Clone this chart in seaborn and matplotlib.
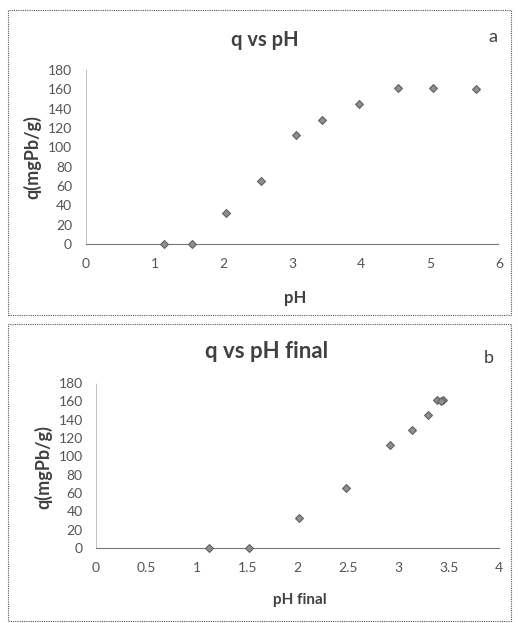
import numpy as np
import pandas as pd
import matplotlib
matplotlib.use("Agg")
import matplotlib.pyplot as plt
import seaborn as sns
from matplotlib.patches import Rectangle

# values
ph = [1.13, 1.54, 2.04, 2.54, 3.05, 3.43, 3.97, 4.53, 5.04, 5.67]
ph_final = [1.12, 1.52, 2.01, 2.48, 2.92, 3.14, 3.30, 3.38, 3.44, 3.42]
q = [0, 0.5, 32.5, 65, 112.5, 128.5, 145, 161, 161, 160.5]

xticks_a = [0, 1, 2, 3, 4, 5, 6]
xticks_b = [0, 0.5, 1, 1.5, 2, 2.5, 3, 3.5, 4]
yticks = [0, 20, 40, 60, 80, 100, 120, 140, 160, 180]

sns.set_style("white")
plt.rcParams['font.family'] = ['Lato', 'DejaVu Sans']

W, H = 518, 623
fig = plt.figure(figsize=(W / 100, H / 100), dpi=100)
fig.patch.set_facecolor('white')

def px(x, y):
    return x / W, 1 - y / H

def box(x0, y0, x1, y1):
    r = Rectangle(px(x0, y1), (x1 - x0) / W, (y1 - y0) / H,
                  transform=fig.transFigure, fill=False,
                  edgecolor='#555555', linestyle=(0, (1, 1)), linewidth=0.8)
    fig.patches.append(r)

def panel(left, right, top, bottom, xdata, xticks, xlim, title, tag,
          xlabel, title_xy, tag_xy, xlabel_xy, ylabel_xy, ypad,
          title_size, xlabel_size):
    l, b = px(left, bottom)
    ax = fig.add_axes([l, b, (right - left) / W, (bottom - top) / H])
    df = pd.DataFrame({'x': xdata, 'q': q})
    sns.scatterplot(data=df, x='x', y='q', ax=ax, marker='D', s=16,
                    color='#8e8e8e', edgecolor='#606060', linewidth=0.8,
                    clip_on=False, zorder=3)
    ax.set_xlim(*xlim)
    ax.set_ylim(0, 180)
    ax.set_xticks(xticks)
    ax.set_xticklabels([f'{t:g}' for t in xticks])
    ax.set_yticks(yticks)
    ax.set_xlabel('')
    ax.set_ylabel('')
    for s in ['top', 'right']:
        ax.spines[s].set_visible(False)
    ax.spines['left'].set_color('#c0c0c0')
    ax.spines['left'].set_linestyle((0, (1, 1)))
    ax.spines['left'].set_linewidth(0.7)
    ax.spines['bottom'].set_color('#777777')
    ax.spines['bottom'].set_linestyle((0, (1, 1)))
    ax.spines['bottom'].set_linewidth(0.8)
    ax.tick_params(axis='x', length=0, pad=10, labelsize=10, labelcolor='#555555')
    ax.tick_params(axis='y', length=0, pad=ypad, labelsize=10, labelcolor='#555555')
    ax.set_facecolor('white')

    fig.text(*px(*title_xy), title, ha='center', va='center',
             fontsize=title_size, fontweight='bold', color='#404040')
    fig.text(*px(*tag_xy), tag, ha='center', va='center',
             fontsize=13, color='#404040')
    fig.text(*px(*xlabel_xy), xlabel, ha='center', va='center',
             fontsize=xlabel_size, fontweight='bold', color='#404040')
    fig.text(*px(*ylabel_xy), 'q(mgPb/g)', ha='center', va='center',
             rotation=90, fontsize=13, fontweight='bold', color='#404040')
    return ax

box(8, 10, 511, 315)
box(8, 324, 511, 621)

panel(86, 499, 70, 244, ph, xticks_a, (0, 6), 'q vs pH', 'a', 'pH',
      (265, 40), (493, 37), (295, 298), (32, 157), 10, 14.5, 12)
panel(96, 499, 383, 548, ph_final, xticks_b, (0, 4), 'q vs pH final', 'b',
      'pH final', (267, 351), (489, 358), (300, 600), (43, 467), 9.5, 16, 11)

fig.savefig('out.png', dpi=100, facecolor='white')
